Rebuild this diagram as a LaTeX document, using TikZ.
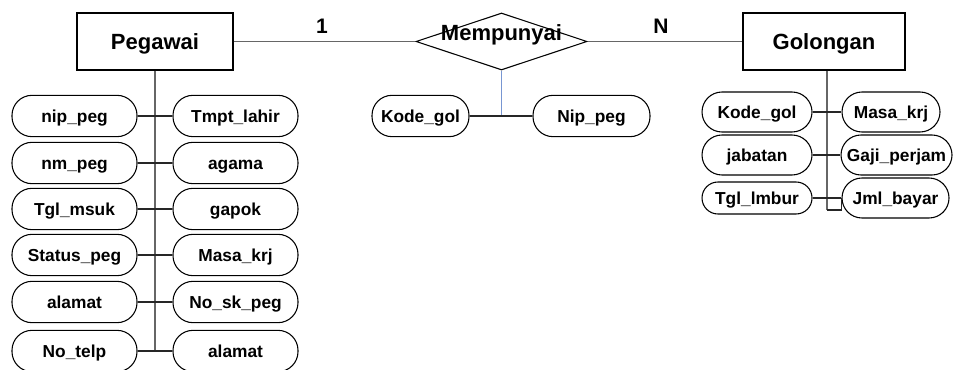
\documentclass[tikz,border=0pt]{standalone}
\usepackage{fontspec}
\setmainfont{Liberation Sans}
\definecolor{linkblue}{RGB}{120,150,210}
\tikzstyle{entity}=[draw,rectangle,line width=0.8pt,minimum width=117pt,minimum height=42.75pt,inner sep=0pt,text height=11.8pt,text depth=0pt,font=\fontsize{16.5}{18}\selectfont\bfseries]
\tikzstyle{relation}=[draw,diamond,line width=0.8pt,aspect=3,minimum width=128.25pt,minimum height=42.75pt,inner sep=0pt]
\tikzstyle{rlabel}=[font=\fontsize{16.5}{18}\selectfont\bfseries,text height=11.8pt,text depth=0pt,inner sep=0pt,yshift=6.75pt]
\tikzstyle{attr}=[draw,rectangle,rounded corners=15pt,line width=0.8pt,minimum width=93.75pt,minimum height=31pt,inner sep=1pt,text height=9.3pt,text depth=0pt,font=\fontsize{13}{14}\selectfont\bfseries]
\tikzstyle{card}=[font=\fontsize{15.75}{17}\selectfont\bfseries,text height=11.3pt,text depth=0pt,inner sep=0pt]
\tikzstyle{edge}=[draw,black!60,line width=1.1pt]
\tikzstyle{link}=[draw,black!85,line width=0.8pt]
\usetikzlibrary{shapes.geometric,positioning}

\begin{document}
\begin{tikzpicture}[x=0.75pt,y=-0.75pt]
\useasboundingbox (0,0) rectangle (969,370);

% entitas dan relasi
\node[entity] (1) at (155,41.5) {Pegawai};
\node[relation,label={[rlabel]center:Mempunyai}] (2) at (501.5,41.5) {};
\node[entity,minimum width=121.5pt] (3) at (824,41.5) {Golongan};
\node[card] (4) at (322,25.5) {1};
\node[card] (5) at (661,25.5) {N};
 \path[edge] (1) -- (2);
 \path[edge] (2) -- (3);

% atribut Pegawai
\node[attr] (10) at (74.5,116) {nip\_peg};
\node[attr] (11) at (74.5,163) {nm\_peg};
\node[attr] (12) at (74.5,209) {Tgl\_msuk};
\node[attr] (13) at (74.5,255) {Status\_peg};
\node[attr] (14) at (74.5,302) {alamat};
\node[attr] (15) at (74.5,351) {No\_telp};
\node[attr] (16) at (235.5,116) {Tmpt\_lahir};
\node[attr] (17) at (235.5,163) {agama};
\node[attr] (18) at (235.5,209) {gapok};
\node[attr] (19) at (235.5,255) {Masa\_krj};
\node[attr] (20) at (235.5,302) {No\_sk\_peg};
\node[attr] (21) at (235.5,351) {alamat};
\coordinate (p) at (155,351);
 \path[edge] (1) -- (p);
 \path[link] (10) -- (16);
 \path[link] (11) -- (17);
 \path[link] (12) -- (18);
 \path[link] (13) -- (19);
 \path[link] (14) -- (20);
 \path[link] (15) -- (21);

% atribut Mempunyai
\node[attr,minimum width=72.75pt] (30) at (420.5,116) {Kode\_gol};
\node[attr,minimum width=87.75pt] (31) at (591.5,116) {Nip\_peg};
\coordinate (m) at (501.5,116);
 \path[draw,linkblue,line width=0.8pt] (2) -- (m);
 \path[link] (30) -- (31);

% atribut Golongan
\node[attr,minimum width=82.5pt,minimum height=30pt] (40) at (757,112) {Kode\_gol};
\node[attr,minimum width=82.5pt,minimum height=30pt] (41) at (757,155) {jabatan};
\node[attr,minimum width=82.5pt,minimum height=24pt,rounded corners=12pt] (42) at (757,198) {Tgl\_lmbur};
\node[attr,minimum width=73.5pt,minimum height=30pt] (43) at (891,112) {Masa\_krj};
\node[attr,minimum width=83.25pt,minimum height=30pt] (44) at (896.5,155) {Gaji\_perjam};
\node[attr,minimum width=80.25pt,minimum height=30pt] (45) at (895.5,198) {Jml\_bayar};
\coordinate (g) at (827,210);
 \path[edge] (3.south -| g) -- (g);
 \path[link] (g) -| (45.west);
 \path[link] (40) -- (43);
 \path[link] (41) -- (44);
 \path[link] (42) -- (45);
\end{tikzpicture}
\end{document}
